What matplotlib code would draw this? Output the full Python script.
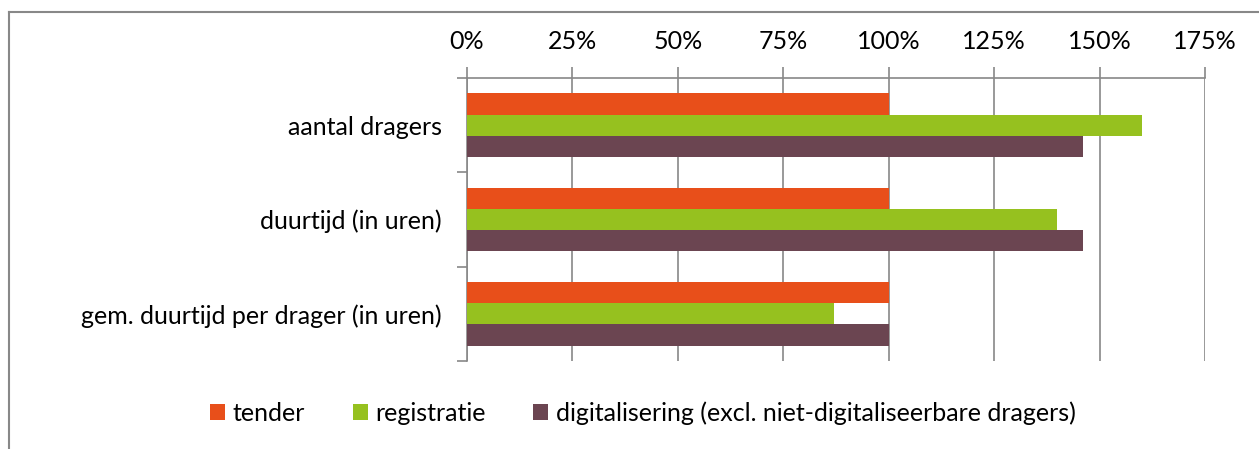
import matplotlib
matplotlib.use("Agg")
import matplotlib.pyplot as plt
from matplotlib.lines import Line2D
from matplotlib.patches import Patch
import numpy as np

categories = ["aantal dragers", "duurtijd (in uren)", "gem. duurtijd per drager (in uren)"]
series_names = ["tender", "registratie", "digitalisering (excl. niet-digitaliseerbare dragers)"]
tender = [100, 100, 100]
registratie = [160, 140, 87]
digitalisering = [146, 146, 100]
xticks = [0, 25, 50, 75, 100, 125, 150, 175]
colors = ["#E84F1A", "#96C11F", "#6B4551"]

plt.rcParams['font.family'] = ['Lato', 'DejaVu Sans']
FS = 18

W, H = 1259, 449
fig = plt.figure(figsize=(W / 100, H / 100), dpi=100)
ax = fig.add_axes([467 / W, 1 - 361 / H, (1205 - 467) / W, (361 - 78) / H])

y = np.arange(len(categories))
bh = 0.225
for i, (vals, c) in enumerate(zip([tender, registratie, digitalisering], colors)):
    ax.barh(y + (i - 1) * bh, vals, height=bh, color=c, zorder=3, label=series_names[i])

ax.set_ylim(2.5, -0.5)
ax.set_xlim(0, 175)
ax.set_xticks(xticks)
ax.set_xticklabels([f"{t}%" for t in xticks], fontsize=FS)
ax.xaxis.tick_top()
ax.tick_params(axis='x', which='major', direction='out', length=8, color='#888888', width=1.2, pad=10)
ax.set_yticks(y)
ax.set_yticklabels(categories, fontsize=FS)
ax.tick_params(axis='y', which='major', length=0, pad=18)
ax.set_yticks([-0.5, 0.5, 1.5, 2.5], minor=True)
ax.tick_params(axis='y', which='minor', direction='out', length=7, color='#888888', width=1.2)
ax.grid(axis='x', color='#888888', linewidth=1.2, zorder=0)
for s in ['right', 'bottom']:
    ax.spines[s].set_visible(False)
for s in ['left', 'top']:
    ax.spines[s].set_color('#888888')
    ax.spines[s].set_linewidth(1.2)

handles = [Patch(facecolor=c, edgecolor='none') for c in colors]
fig.legend(handles, series_names, loc='center', bbox_to_anchor=(643 / W, 1 - 413 / H),
           ncol=3, frameon=False, fontsize=FS, handlelength=0.6, handleheight=0.6,
           handletextpad=0.3, columnspacing=1.9)

# outer frame
fig.add_artist(Line2D([8.5 / W, 8.5 / W], [0, 1 - 11.5 / H], transform=fig.transFigure, color='#888888', lw=1.5))
fig.add_artist(Line2D([8.5 / W, 1], [1 - 11.5 / H, 1 - 11.5 / H], transform=fig.transFigure, color='#888888', lw=1.5))

fig.savefig("out.png", dpi=100)
